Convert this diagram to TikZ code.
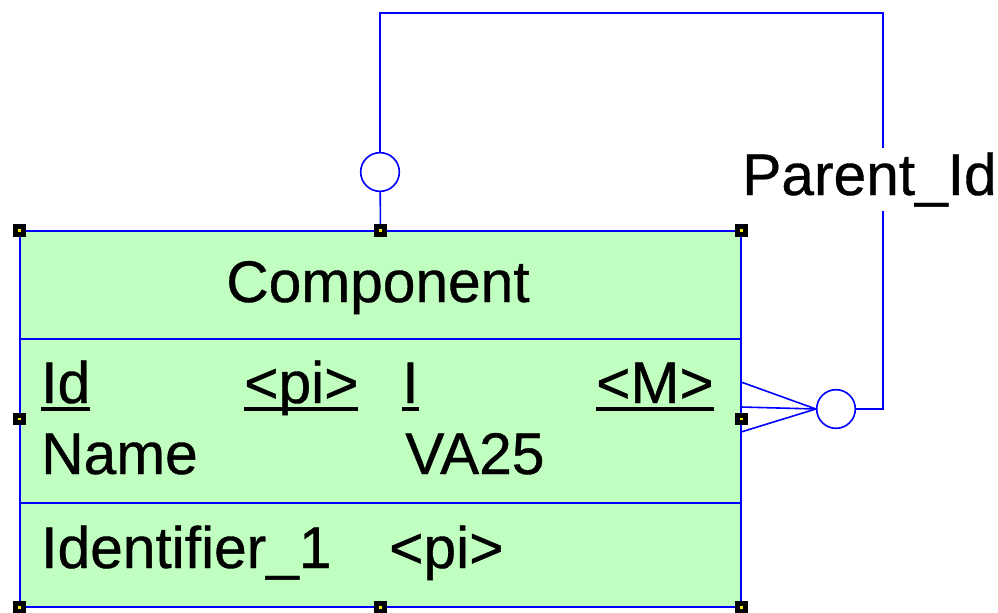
\documentclass[tikz,border=0pt]{standalone}
\usepackage{fontspec}
\setmainfont[FakeBold=0.6]{Liberation Sans}
\usepackage{tikz}
\usetikzlibrary{positioning}

\definecolor{entgreen}{RGB}{192,255,192}
\definecolor{linkblue}{RGB}{0,0,255}
\newcommand{\entfont}{\fontsize{44pt}{52pt}\selectfont}
\newcommand{\attrul}[1]{\setbox0\hbox{#1}\rlap{\rule[-6pt]{\wd0}{3pt}}\box0}

\begin{document}
\begin{tikzpicture}[x=0.75pt,y=-0.75pt]
	 \tikzstyle{entity}=[rectangle,draw=linkblue,fill=entgreen,line width=1.2pt,minimum width=540.75pt,minimum height=282pt,inner sep=0pt]
	 \tikzstyle{label}=[font=\entfont,inner sep=0pt,anchor=base west]
	 \tikzstyle{ring}=[circle,draw=linkblue,fill=white,line width=1.2pt,minimum size=29pt,inner sep=0pt]
	 \tikzstyle{edge} = [draw,line width=1.2pt,-,linkblue]
	 \tikzstyle{handle}=[rectangle,fill=black,minimum size=9.5pt,inner sep=0pt]
	 \tikzstyle{handlemark}=[rectangle,fill=yellow,minimum size=2.2pt,inner sep=0pt]
	 \useasboundingbox (0,0) rectangle (998,613);

	 % entity box
	 \node[entity] (comp) at (380.5,419) {};
	 \coordinate (d1l) at (20,339);
	 \coordinate (d1r) at (741,339);
	 \coordinate (d2l) at (20,503);
	 \coordinate (d2r) at (741,503);
	 \draw[edge] (d1l) -- (d1r);
	 \draw[edge] (d2l) -- (d2r);

	 % texts
	 \node[label,anchor=base] (name) at (378,302) {Component};
	 \node[label] (a1) at (41,403) {\attrul{Id}};
	 \node[label] (a1k) at (244,403) {\attrul{<pi>}};
	 \node[label] (a1t) at (402,403) {\attrul{I}};
	 \node[label] (a1m) at (596,403) {\attrul{<M>}};
	 \node[label] (a2) at (41,474) {Name};
	 \node[label] (a2t) at (405,474) {VA25};
	 \node[label] (k1) at (41,568) {Identifier\_1};
	 \node[label] (k1p) at (389,568) {<pi>};

	 % self reference
	 \node[ring] (c1) at (380,172) {};
	 \node[ring] (c2) at (836,409) {};
	 \coordinate (tr) at (883,13);
	 \coordinate (cf1) at (741,382);
	 \coordinate (cf2) at (741,407);
	 \coordinate (cf3) at (741,432);
	 \draw[edge] (comp.north) -- (c1);
	 \draw[edge] (c1) |- (tr) |- (c2);
	 \draw[edge] (cf1) -- (c2.west);
	 \draw[edge] (cf2) -- (c2.west);
	 \draw[edge] (cf3) -- (c2.west);
	 \node[label,fill=white,inner ysep=3pt] (role) at (742,195) {Parent\_Id};

	 % selection handles
	 \foreach \p in {comp.north west,comp.north,comp.north east,comp.west,comp.east,comp.south west,comp.south,comp.south east}
	 {
	   \node[handle] at (\p) {};
	   \node[handlemark] at (\p) {};
	 }
\end{tikzpicture}
\end{document}
